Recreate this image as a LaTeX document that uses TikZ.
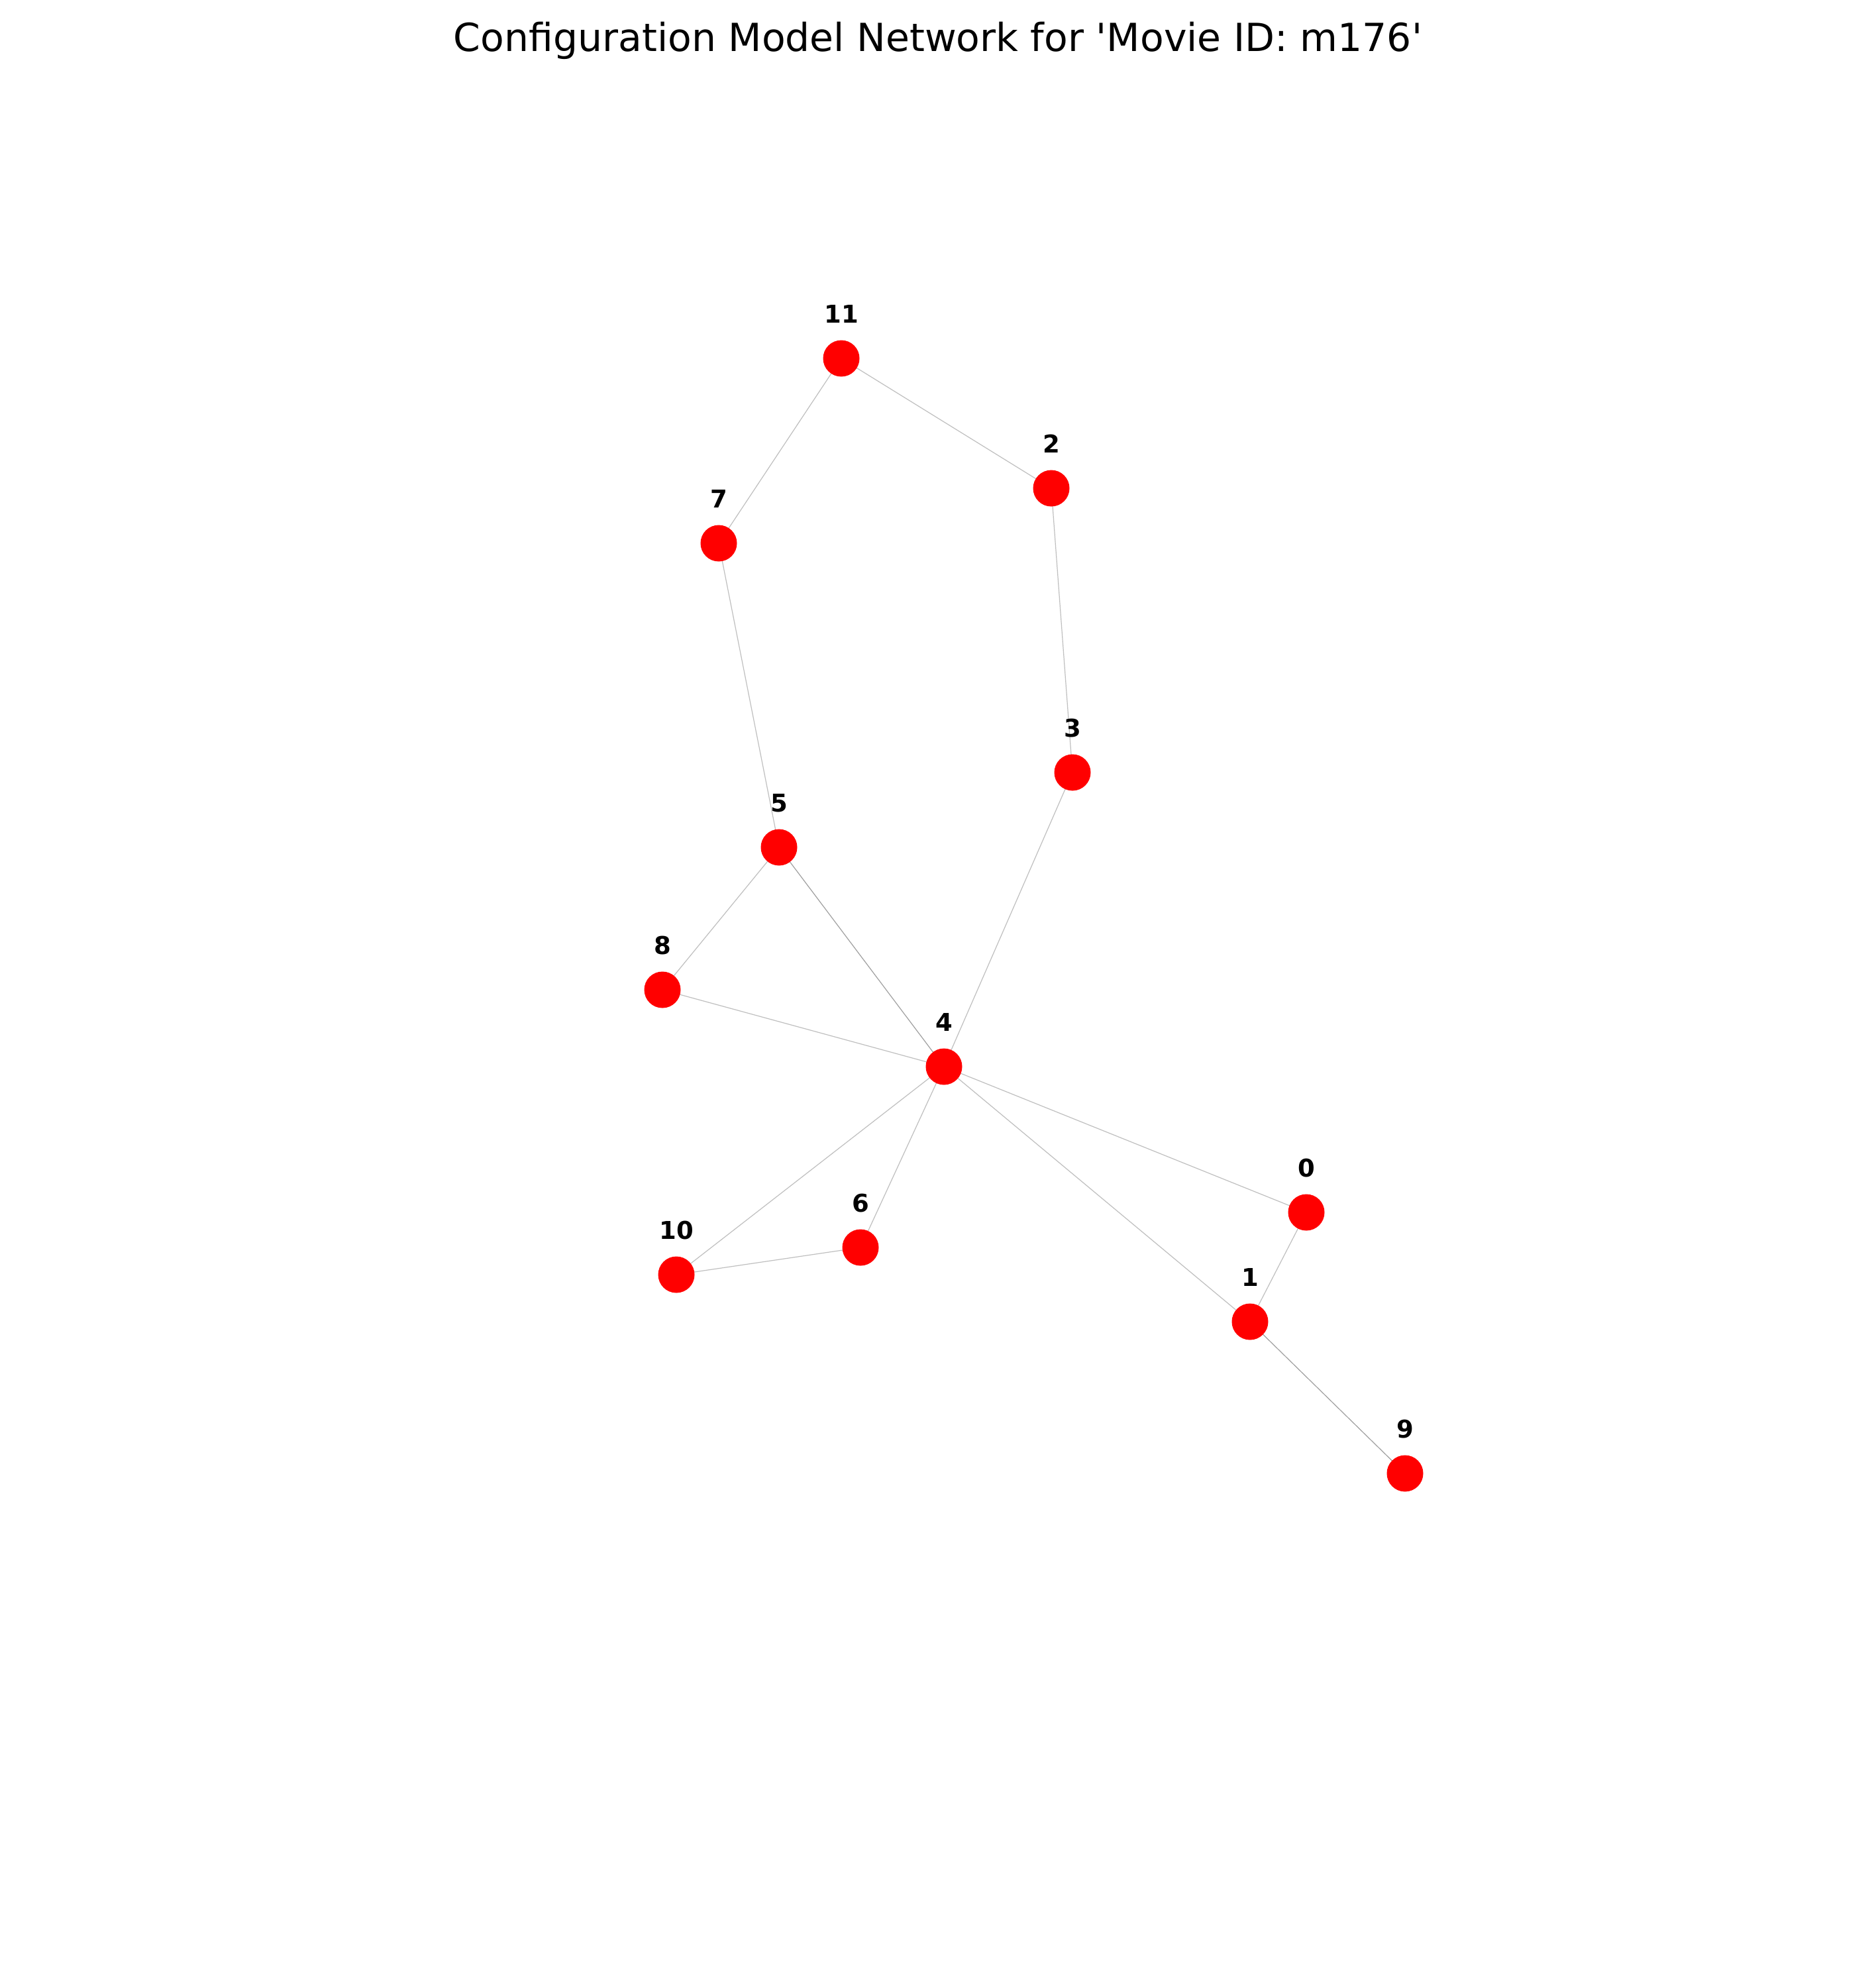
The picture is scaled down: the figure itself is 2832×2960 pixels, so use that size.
\documentclass[tikz,border=0pt]{standalone}
\usepackage{fontspec}
\setmainfont{DejaVu Sans}[Ligatures=TeXOff]
\begin{document}
\begin{tikzpicture}[x=0.25pt,y=-0.25pt,
  vert/.style={circle,fill={rgb,255:red,255;green,0;blue,0},draw=none,minimum size=13.75pt,inner sep=0pt},
  lbl/.style={anchor=base,inner sep=0pt,font=\fontsize{9.25pt}{9.25pt}\selectfont\bfseries},
  edge/.style={draw={rgb,255:red,191;green,191;blue,191},line width=0.3pt},
  dedge/.style={draw={rgb,255:red,160;green,160;blue,160},line width=0.3pt}]
\useasboundingbox[fill=white] (0,0) rectangle (2832,2960);
\node[anchor=base,inner sep=0pt,font=\fontsize{14.6pt}{14.6pt}\selectfont] (title) at (1416,77) {Configuration Model Network for 'Movie ID: m176'};
\foreach \n/\x/\y in {0/1972/1830,1/1887/1995,2/1587/737,3/1619/1166,4/1425/1610,5/1176/1279,6/1299/1883,7/1085/820,8/1000/1494,9/2121/2224,10/1021/1924,11/1270/541}{
  \coordinate (c\n) at (\x,\y);
}
\foreach \a/\b in {11/7,11/2,2/3,7/5,3/4,5/8,8/4,4/10,4/6,10/6,4/0,4/1,0/1}{
  \draw[edge] (c\a) -- (c\b);
}
\draw[dedge] (c5) -- (c4);
\draw[dedge] (c1) -- (c9);
\foreach \n in {0,...,11}{
  \node[vert] (v\n) at (c\n) {};
  \node[lbl] (l\n) at ([yshift=54*0.25pt]c\n) {\n};
}
\end{tikzpicture}
\end{document}
